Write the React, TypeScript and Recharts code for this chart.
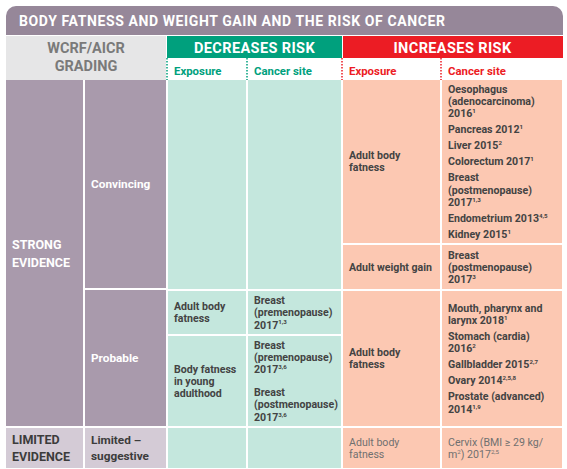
import React from 'react';
import { Surface, Layer, Rectangle } from 'recharts';

document.body.style.margin = '0';

// ---- table content ----
const title = 'BODY FATNESS AND WEIGHT GAIN AND THE RISK OF CANCER';
const gradingLabel = ['WCRF/AICR', 'GRADING'];
const effectGroups = ['DECREASES RISK', 'INCREASES RISK'];
const subHeaders = ['Exposure', 'Cancer site'];
const evidenceLevels = [['STRONG', 'EVIDENCE'], ['LIMITED', 'EVIDENCE']];
const gradings = [['Convincing'], ['Probable'], ['Limited –', 'suggestive']];

// each cell: list of items, each item a list of lines; "^" marks a superscript
const decreasesExposure = [
  [['Adult body', 'fatness']],
  [['Body fatness', 'in young', 'adulthood']],
];
const decreasesSites = [
  [['Breast', '(premenopause)', '2017^1,3']],
  [['Breast', '(premenopause)', '2017^3,6'], ['Breast', '(postmenopause)', '2017^3,6']],
];
const increasesExposure = [
  [['Adult body', 'fatness']],
  [['Adult weight gain']],
  [['Adult body', 'fatness']],
  [['Adult body', 'fatness']],
];
const increasesSites = [
  [
    ['Oesophagus', '(adenocarcinoma)', '2016^1'],
    ['Pancreas 2012^1'],
    ['Liver 2015^2'],
    ['Colorectum 2017^1'],
    ['Breast', '(postmenopause)', '2017^1,3'],
    ['Endometrium 2013^4,5'],
    ['Kidney 2015^1'],
  ],
  [['Breast', '(postmenopause)', '2017^3']],
  [
    ['Mouth, pharynx and', 'larynx 2018^1'],
    ['Stomach (cardia)', '2016^2'],
    ['Gallbladder 2015^2,7'],
    ['Ovary 2014^2,5,8'],
    ['Prostate (advanced)', '2014^1,9'],
  ],
  [['Cervix (BMI ≥ 29 kg/', 'm^2) 2017^2,5']],
];

// ---- layout ----
const W = 567;
const H = 469;
const FONT = 'Roboto, "Liberation Sans", Arial, sans-serif';
const cols: [number, number][] = [[6, 83], [85, 166], [168, 246], [248, 341], [343, 440], [442, 562]];
const rows = {
  strong: [80, 426],
  conv: [80, 289],
  prob: [291, 426],
  probA: [291, 334],
  probB: [336, 426],
  convA: [80, 243],
  convB: [245, 289],
  limited: [428, 468],
};

const C = {
  title: '#968799',
  grey: '#e6e6e7',
  green: '#00a07d',
  red: '#ec1c24',
  greenLight: '#c4e7dd',
  redLight: '#fcc8b2',
  purple: '#a99aac',
  purpleLight: '#d4cbd6',
  text: '#434343',
  textLight: '#707070',
};

type Style = { size: number; weight: number; color: string; lh: number; gap: number };
const body: Style = { size: 10.6, weight: 700, color: C.text, lh: 12.3, gap: 3.7 };
const light: Style = { ...body, weight: 400, color: C.textLight };

const RichLine = ({ x, y, text, s }: { x: number; y: number; text: string; s: Style }) => {
  const parts = text.split(/\^([0-9,]+)/);
  return (
    <text x={x} y={y} fontFamily={FONT} fontSize={s.size} fontWeight={s.weight} fill={s.color}>
      {parts.map((p, i) =>
        i % 2 === 1 ? (
          <tspan key={i} fontSize={s.size * 0.58} dy={-4.2}>{p}</tspan>
        ) : (
          <tspan key={i} dy={i > 0 ? 4.2 : 0}>{p}</tspan>
        )
      )}
    </text>
  );
};

const Cell = ({ col, row, fill, items = [], s = body }: {
  col: number; row: number[]; fill: string; items?: string[][]; s?: Style;
}) => {
  const [x0, x1] = cols[col];
  const [y0, y1] = row;
  const nLines = items.reduce((n, it) => n + it.length, 0);
  const total = nLines > 0 ? (nLines - 1) * s.lh + (items.length - 1) * s.gap : 0;
  let y = (y0 + y1) / 2 - total / 2;
  const lines: React.ReactNode[] = [];
  items.forEach((it, i) => {
    it.forEach((ln, j) => {
      lines.push(<RichLine key={`${i}-${j}`} x={x0 + 6} y={y + s.size * 0.36} text={ln} s={s} />);
      if (j < it.length - 1) y += s.lh;
    });
    y += s.lh + s.gap;
  });
  return (
    <Layer>
      <Rectangle x={x0} y={y0} width={x1 - x0} height={y1 - y0} fill={fill} />
      {lines}
    </Layer>
  );
};

const Dotted = ({ x, color }: { x: number; color: string }) => (
  <line x1={x} x2={x} y1={58} y2={80} stroke={color} strokeWidth={1.5} strokeDasharray="1.5 1.5" />
);

export default function App() {
  const left: Style = { size: 12.5, weight: 700, color: '#ffffff', lh: 18, gap: 0 };
  const leftDark: Style = { ...left, color: '#3c3c3c', lh: 17.5 };
  const grade: Style = { size: 11.8, weight: 700, color: '#ffffff', lh: 16, gap: 0 };
  const gradeDark: Style = { ...grade, color: '#3c3c3c' };
  const sub = (color: string): Style => ({ size: 11.4, weight: 700, color, lh: 12, gap: 0 });

  return (
    <div style={{ width: W, height: H, background: '#fff' }}>
      <Surface width={W} height={H} viewBox={{ x: 0, y: 0, width: W, height: H }}>
        {/* title bar */}
        <Rectangle x={6} y={6} width={557} height={29} radius={[10, 10, 0, 0]} fill={C.title} />
        <text x={19} y={26} fontFamily={FONT} fontSize={14} fontWeight={700} letterSpacing={0.6} fill="#fff">{title}</text>

        {/* header */}
        <Rectangle x={6} y={36} width={160} height={44} fill={C.grey} />
        {gradingLabel.map((t, i) => (
          <text key={t} x={86} y={53 + i * 18} textAnchor="middle" fontFamily={FONT} fontSize={14.5} fontWeight={700} fill="#7a7a7a">{t}</text>
        ))}
        <Rectangle x={167} y={36} width={175} height={22} fill={C.green} />
        <Rectangle x={343} y={36} width={220} height={22} fill={C.red} />
        {effectGroups.map((t, i) => (
          <text key={t} x={i === 0 ? 254.5 : 452.5} y={52.5} textAnchor="middle" fontFamily={FONT} fontSize={14.5} fontWeight={700} letterSpacing={0.4} fill="#fff">{t}</text>
        ))}
        {[2, 3, 4, 5].map((c) => (
          <RichLine key={c} x={cols[c][0] + 6} y={74.5} text={subHeaders[c % 2]} s={sub(c < 4 ? C.green : C.red)} />
        ))}
        <Dotted x={167} color={C.green} />
        <Dotted x={247} color={C.green} />
        <Dotted x={342} color={C.red} />
        <Dotted x={441} color={C.red} />

        {/* evidence / grading */}
        <Cell col={0} row={rows.strong} fill={C.purple} items={[evidenceLevels[0]]} s={left} />
        <Cell col={0} row={rows.limited} fill={C.purpleLight} items={[evidenceLevels[1]]} s={leftDark} />
        <Cell col={1} row={[80, 288]} fill={C.purple} items={[gradings[0]]} s={grade} />
        <Cell col={1} row={[290, 426]} fill={C.purple} items={[gradings[1]]} s={grade} />
        <Cell col={1} row={rows.limited} fill={C.purpleLight} items={[gradings[2]]} s={gradeDark} />

        {/* decreases risk */}
        <Cell col={2} row={rows.conv} fill={C.greenLight} />
        <Cell col={3} row={rows.conv} fill={C.greenLight} />
        <Cell col={2} row={rows.probA} fill={C.greenLight} items={decreasesExposure[0]} />
        <Cell col={2} row={rows.probB} fill={C.greenLight} items={decreasesExposure[1]} />
        <Cell col={3} row={rows.probA} fill={C.greenLight} items={decreasesSites[0]} />
        <Cell col={3} row={rows.probB} fill={C.greenLight} items={decreasesSites[1]} s={{ ...body, gap: 10.4 }} />
        <Cell col={2} row={rows.limited} fill={C.greenLight} />
        <Cell col={3} row={rows.limited} fill={C.greenLight} />

        {/* increases risk */}
        <Cell col={4} row={rows.convA} fill={C.redLight} items={increasesExposure[0]} />
        <Cell col={5} row={rows.convA} fill={C.redLight} items={increasesSites[0]} />
        <Cell col={4} row={rows.convB} fill={C.redLight} items={increasesExposure[1]} />
        <Cell col={5} row={rows.convB} fill={C.redLight} items={increasesSites[1]} />
        <Cell col={4} row={rows.prob} fill={C.redLight} items={increasesExposure[2]} />
        <Cell col={5} row={rows.prob} fill={C.redLight} items={increasesSites[2]} />
        <Cell col={4} row={rows.limited} fill={C.redLight} items={increasesExposure[3]} s={light} />
        <Cell col={5} row={rows.limited} fill={C.redLight} items={increasesSites[3]} s={light} />
      </Surface>
    </div>
  );
}
